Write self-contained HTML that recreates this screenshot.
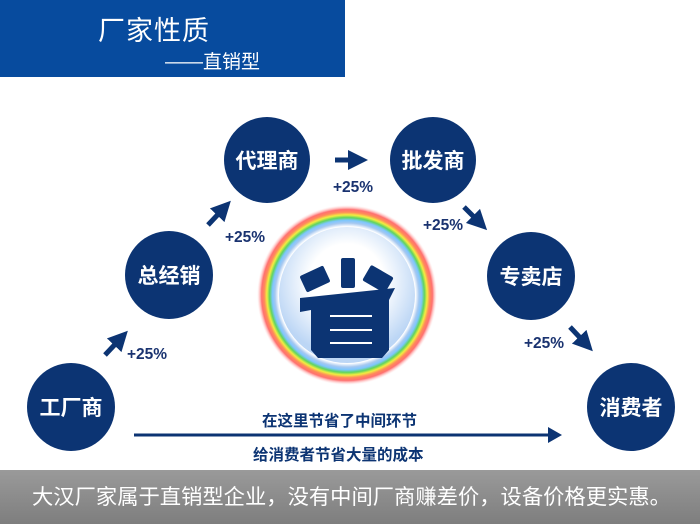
<!DOCTYPE html>
<html><head><meta charset="utf-8"><style>
html,body{margin:0;padding:0;}
body{width:700px;height:524px;position:relative;overflow:hidden;background:#fff;font-family:"Liberation Sans","Noto Sans CJK SC",sans-serif;}
.hdr{position:absolute;left:0;top:0;width:345px;height:77px;background:#074b9e;color:#fff;}
.c{position:absolute;border-radius:50%;background:#0c3473;color:#fff;font-weight:bold;font-size:21px;display:flex;align-items:center;justify-content:center;}
.p{position:absolute;color:#1a3370;font-weight:bold;font-size:15.5px;}
.bar{position:absolute;left:0;top:470px;width:700px;height:54px;background:linear-gradient(#9a9a9a,#7e7e7e);color:#fff;font-size:21.3px;line-height:54px;padding-left:32px;box-sizing:border-box;white-space:nowrap;}
</style></head><body>
<div class="hdr">
<div style="position:absolute;left:98px;top:9px;font-size:27px;letter-spacing:1px;">厂家性质</div>
<div style="position:absolute;left:165px;top:47px;font-size:19px;">——直销型</div>
</div>
<svg width="700" height="524" style="position:absolute;left:0;top:0">
<defs>
<radialGradient id="rb" cx="50%" cy="50%" r="50%">
<stop offset="0.76" stop-color="#fff"/>
<stop offset="0.80" stop-color="#a6c8f0"/>
<stop offset="0.83" stop-color="#7ec6ff"/>
<stop offset="0.86" stop-color="#5fd45f"/>
<stop offset="0.89" stop-color="#f2ee40"/>
<stop offset="0.92" stop-color="#ff8a5a"/>
<stop offset="0.95" stop-color="#ff7070"/>
<stop offset="1" stop-color="#ffdada" stop-opacity="0"/>
</radialGradient>
<radialGradient id="in" cx="50%" cy="40%" r="55%">
<stop offset="0.5" stop-color="#fff"/>
<stop offset="1" stop-color="#bcd6f5"/>
</radialGradient>
<marker id="ah" markerWidth="4" markerHeight="4" refX="2" refY="2" orient="auto"><path d="M0,0L4,2L0,4z" fill="#0c3473"/></marker>
</defs>
<circle cx="347" cy="295" r="90" fill="url(#rb)"/>
<circle cx="347" cy="295" r="68" fill="url(#in)"/>
<g fill="#0c3473">
<rect x="341" y="258" width="14" height="30" rx="2"/>
<rect x="302" y="270" width="26" height="18" rx="2" transform="rotate(-25 315 279)"/>
<rect x="365" y="270" width="26" height="18" rx="2" transform="rotate(30 378 279)"/>
<path d="M300 298 L395 288 L389 300 L389 350 L382 358 L318 358 L311 350 L311 310 L300 312Z"/>
</g>
<g stroke="#fff" stroke-width="2"><line x1="330" y1="316" x2="372" y2="316"/><line x1="330" y1="330" x2="372" y2="330"/><line x1="330" y1="343" x2="372" y2="343"/></g>
<g stroke="#0c3473" stroke-width="5" fill="none" marker-end="url(#ah)">
<line x1="105" y1="355" x2="121" y2="338"/>
<line x1="208" y1="225" x2="224" y2="208"/>
<line x1="335" y1="160" x2="358" y2="160"/>
<line x1="464" y1="207" x2="480" y2="223"/>
<line x1="570" y1="327" x2="586" y2="344"/>
</g>
<line x1="134" y1="435" x2="550" y2="435" stroke="#0c3473" stroke-width="3"/>
<path d="M548 427L562 435L548 443z" fill="#0c3473"/>
</svg>
<div class="c" style="left:27px;top:363px;width:88px;height:88px;">工厂商</div>
<div class="c" style="left:125px;top:231px;width:88px;height:88px;">总经销</div>
<div class="c" style="left:224px;top:117px;width:86px;height:86px;">代理商</div>
<div class="c" style="left:390px;top:117px;width:86px;height:86px;">批发商</div>
<div class="c" style="left:487px;top:232px;width:88px;height:88px;">专卖店</div>
<div class="c" style="left:587px;top:363px;width:88px;height:88px;">消费者</div>
<div class="p" style="left:127px;top:346px;">+25%</div>
<div class="p" style="left:225px;top:229px;">+25%</div>
<div class="p" style="left:333px;top:179px;">+25%</div>
<div class="p" style="left:423px;top:217px;">+25%</div>
<div class="p" style="left:524px;top:335px;">+25%</div>
<div style="position:absolute;left:262px;top:409px;color:#0c3473;font-weight:bold;font-size:15.5px;">在这里节省了中间环节</div>
<div style="position:absolute;left:253px;top:443px;color:#0c3473;font-weight:bold;font-size:15.5px;">给消费者节省大量的成本</div>
<div class="bar">大汉厂家属于直销型企业，没有中间厂商赚差价，设备价格更实惠。</div>
</body></html>
